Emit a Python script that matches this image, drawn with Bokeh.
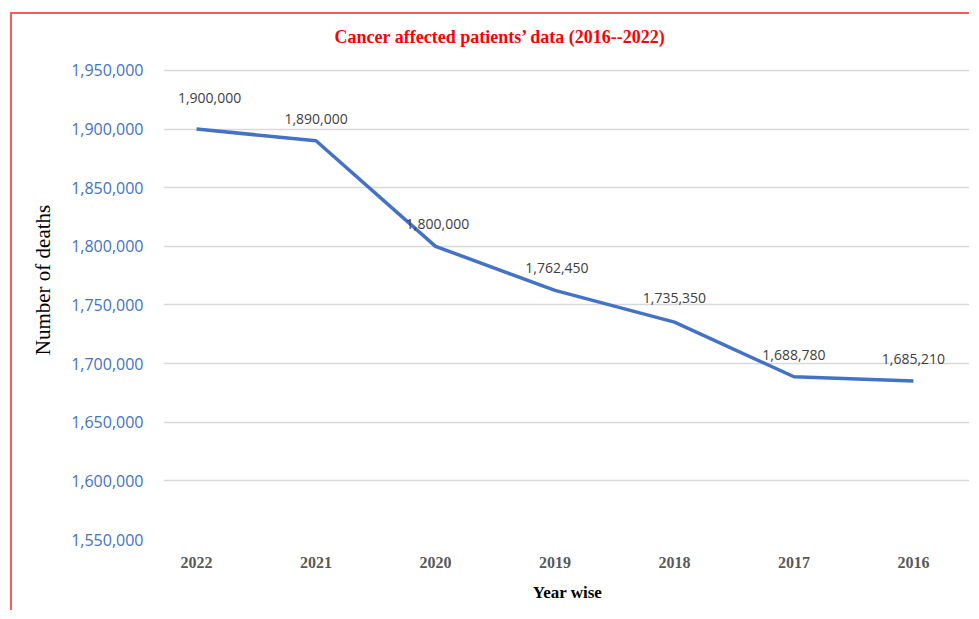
from bokeh.plotting import figure
from bokeh.models import (ColumnDataSource, LabelSet, Label, FixedTicker,
                          NumeralTickFormatter, Range1d)
from bokeh.core.properties import value
from bokeh.embed import file_html
from bokeh.resources import INLINE

# ---- data ----
years = ["2022", "2021", "2020", "2019", "2018", "2017", "2016"]
deaths = [1900000, 1890000, 1800000, 1762450, 1735350, 1688780, 1685210]
y_ticks = [1550000, 1600000, 1650000, 1700000, 1750000, 1800000, 1850000, 1900000, 1950000]
title_text = "Cancer affected patients\u2019 data (2016--2022)"

# label styling offsets (pixels)
lab_dx = [13, 0, 2, 2, 0, 0, 0]
lab_dy = [31, 22, 22, 22, 24, 22, 22]

idx = list(range(len(years)))
src = ColumnDataSource(dict(
    x=idx, y=deaths,
    txt=[f"{v:,}" for v in deaths],
    dx=lab_dx, dy=lab_dy,
))

# axis range: 1,550,000 .. 1,950,000 plus blank room above for the title
y_lo, y_hi = y_ticks[0], y_ticks[-1]
y_top = y_hi + (y_hi - y_lo) * 50.0 / 470.0

p = figure(width=959, height=598, output_backend="svg", toolbar_location=None,
           x_range=Range1d(-0.2765, 6.486), y_range=Range1d(y_lo, y_top),
           min_border_left=151, min_border_right=0, min_border_top=6,
           min_border_bottom=73)
p.styles = {"border-left": "2px solid #FF5A5A", "border-top": "2px solid #FF5A5A",
            "margin-left": "10px", "margin-top": "12px"}
p.outline_line_color = None
p.background_fill_color = "white"
p.border_fill_color = "white"

p.line("x", "y", source=src, line_color="#4472C4", line_width=3.5,
       line_join="round")

labels = LabelSet(x="x", y="y", text="txt", source=src,
                  x_offset="dx", y_offset="dy",
                  text_align="center", text_baseline="middle",
                  text_font=value("Open Sans"), text_font_size=value("14px"),
                  text_color="#404040")
p.add_layout(labels)

title = Label(x=337, y=503, x_units="screen", y_units="screen", text=title_text,
              text_align="center", text_baseline="middle",
              text_font="Liberation Serif", text_font_style="bold",
              text_font_size="18px", text_color="#FF0000")
p.add_layout(title)

# grid
p.xgrid.grid_line_color = None
p.ygrid.grid_line_color = "#D9D9D9"
p.ygrid.grid_line_width = 1.3

# y axis
ya = p.yaxis[0]
ya.bounds = (y_lo, y_hi)
ya.ticker = FixedTicker(ticks=y_ticks)
ya.formatter = NumeralTickFormatter(format="0,0")
ya.axis_line_color = None
ya.major_tick_line_color = None
ya.minor_tick_line_color = None
ya.major_label_standoff = 14
ya.major_label_text_font = "Open Sans"
ya.major_label_text_font_size = "16px"
ya.major_label_text_color = "#4472C4"
ya.axis_label = "Number of deaths"
ya.axis_label_text_font = "Liberation Serif"
ya.axis_label_text_font_style = "normal"
ya.axis_label_text_font_size = "21px"
ya.axis_label_text_color = "black"
ya.axis_label_standoff = 13

# x axis
xa = p.xaxis[0]
xa.ticker = FixedTicker(ticks=idx)
xa.major_label_overrides = {i: y for i, y in zip(idx, years)}
xa.axis_line_color = None
xa.major_tick_line_color = None
xa.minor_tick_line_color = None
xa.major_label_standoff = 11
xa.major_label_text_font = "Liberation Serif"
xa.major_label_text_font_style = "bold"
xa.major_label_text_font_size = "16px"
xa.major_label_text_color = "#595959"
xa.axis_label = "Year wise"
xa.axis_label_text_font = "Liberation Serif"
xa.axis_label_text_font_style = "bold"
xa.axis_label_text_font_size = "17px"
xa.axis_label_text_color = "black"
xa.axis_label_standoff = 12

open("out.html", "w").write(file_html(p, INLINE))
